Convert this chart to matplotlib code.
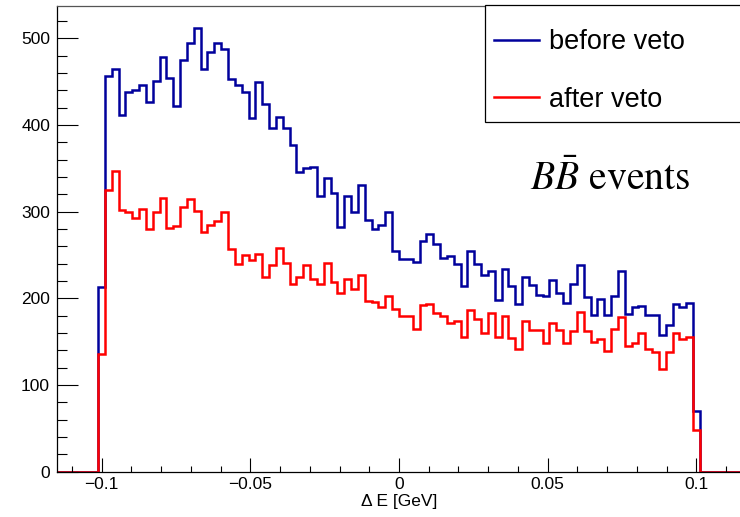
import numpy as np
import matplotlib
matplotlib.use("Agg")
import matplotlib.pyplot as plt
from matplotlib.patches import Rectangle
from matplotlib.ticker import MultipleLocator

# histogram binning (ROOT style: 100 bins on [-0.115, 0.115])
n_bins = 100
x_lo, x_hi = -0.115, 0.115

# bin contents (only bins 6..93 are filled)
before_veto = [
    213, 456, 465, 411, 438, 440, 446, 427, 451, 478,
    454, 422, 475, 495, 512, 464, 484, 495, 487, 453,
    446, 438, 408, 449, 424, 396, 409, 397, 377, 346,
    350, 351, 318, 339, 322, 282, 318, 299, 331, 290,
    280, 284, 300, 255, 245, 245, 242, 266, 274, 263,
    246, 249, 239, 214, 255, 239, 227, 231, 198, 234,
    214, 194, 225, 215, 204, 203, 221, 206, 195, 216,
    238, 202, 181, 199, 181, 203, 232, 182, 190, 191,
    181, 181, 158, 169, 193, 190, 195, 70,
]
after_veto = [
    136, 325, 347, 302, 300, 293, 303, 280, 299, 316,
    281, 283, 305, 315, 301, 276, 284, 289, 299, 257,
    239, 250, 244, 251, 224, 238, 258, 241, 217, 224,
    238, 222, 216, 241, 219, 206, 222, 211, 227, 197,
    196, 190, 203, 188, 180, 180, 165, 192, 193, 183,
    180, 172, 174, 155, 186, 176, 160, 183, 155, 180,
    154, 142, 174, 163, 163, 148, 171, 163, 148, 162,
    184, 162, 150, 153, 139, 165, 178, 145, 149, 160,
    142, 138, 119, 138, 160, 153, 155, 48,
]
first_filled = 6

x_ticks = [-0.1, -0.05, 0, 0.05, 0.1]
x_tick_labels = ["\u22120.1", "\u22120.05", "0", "0.05", "0.1"]
y_ticks = [0, 100, 200, 300, 400, 500]

series_names = ["before veto", "after veto"]
series_colors = ["#00009c", "#ff0000"]

plt.rcParams["font.family"] = ["Liberation Sans", "DejaVu Sans"]
plt.rcParams["mathtext.fontset"] = "stix"

edges = np.linspace(x_lo, x_hi, n_bins + 1)


def full_hist(filled):
    counts = np.zeros(n_bins)
    counts[first_filled:first_filled + len(filled)] = filled
    return counts


W, H = 740, 517
fig = plt.figure(figsize=(W / 100, H / 100), dpi=100)
ax = fig.add_axes([57 / W, (H - 471.7) / H, 684 / W, (471.7 - 5.7) / H])

handles = []
for vals, name, col in zip([before_veto, after_veto], series_names, series_colors):
    ax.stairs(full_hist(vals), edges, color=col, linewidth=1.8, label=name)
    handles.append(plt.Line2D([], [], color=col, linewidth=1.8))

ax.set_xlim(x_lo, x_hi)
ax.set_ylim(0, 537.5)

ax.set_xticks(x_ticks)
ax.set_xticklabels(x_tick_labels)
ax.xaxis.set_minor_locator(MultipleLocator(0.01))
ax.set_yticks(y_ticks)
ax.yaxis.set_minor_locator(MultipleLocator(20))

ax.tick_params(axis="x", which="major", direction="in", length=10, width=0.8,
               labelsize=12.5, pad=4)
ax.tick_params(axis="x", which="minor", direction="in", length=4.5, width=0.8)
ax.tick_params(axis="y", which="major", direction="in", length=15, width=0.8,
               labelsize=12.5, pad=5)
ax.tick_params(axis="y", which="minor", direction="in", length=7.5, width=0.8)

for s in ["left", "bottom"]:
    ax.spines[s].set_color("black")
    ax.spines[s].set_linewidth(0.9)
ax.spines["top"].set_color("#555555")
ax.spines["top"].set_linewidth(0.9)
ax.spines["right"].set_visible(False)

ax.set_xlabel("\u0394 E [GeV]", fontsize=12.5, labelpad=1)

# legend box drawn separately, ROOT TLegend style
fig.patches.append(Rectangle((485 / W, 1 - 122 / H), 270 / W, 117 / H,
                             transform=fig.transFigure, facecolor="white",
                             edgecolor="black", linewidth=0.9, zorder=5))
leg = fig.legend(handles, series_names, loc="upper left",
                 bbox_to_anchor=(494 / W, 1 - 29 / H), fontsize=19.5,
                 frameon=False, borderpad=0, borderaxespad=0,
                 handlelength=1.67, handletextpad=0.35, labelspacing=1.18)
leg.set_zorder(6)

fig.text(530 / W, 1 - 190 / H, r"$B\bar{B}$ events", fontsize=28.5,
         family="STIXGeneral", ha="left", va="baseline")

fig.savefig("out.png", dpi=100)
